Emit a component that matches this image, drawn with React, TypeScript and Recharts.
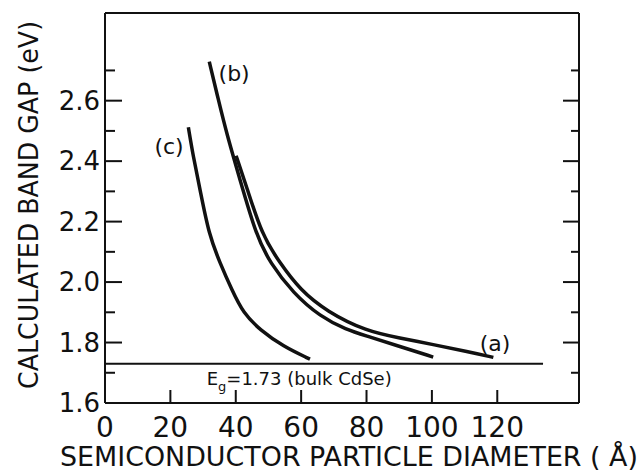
import { LineChart, Line, XAxis, YAxis, ReferenceDot } from 'recharts';

// particle diameter (Å) vs calculated band gap (eV)
const diameterA = [40.1, 43.3, 48.0, 53.5, 59.7, 67.8, 80, 90.2, 100.4, 110.6, 118.8];
const gapA = [2.418, 2.316, 2.156, 2.063, 1.974, 1.903, 1.837, 1.815, 1.793, 1.771, 1.751];

const diameterB = [31.9, 34.7, 37.2, 41.3, 46.2, 50.5, 57.6, 65.8, 73.9, 80, 90.2, 100.4];
const gapB = [2.729, 2.602, 2.492, 2.338, 2.156, 2.063, 1.963, 1.886, 1.842, 1.822, 1.787, 1.752];

const diameterC = [25.5, 27.0, 29.1, 31.8, 35.2, 38.8, 42.3, 47.4, 54.5, 62.7];
const gapC = [2.512, 2.415, 2.305, 2.156, 2.063, 1.974, 1.897, 1.842, 1.787, 1.745];

const bulkDiameter = [0, 134];
const bulkGap = [1.73, 1.73];

const xTicks = [0, 20, 40, 60, 80, 100, 120];
const xTopTicks = [20, 40, 60, 80, 100, 120];
const yTicks = [1.6, 1.7, 1.8, 1.9, 2.0, 2.1, 2.2, 2.3, 2.4, 2.5, 2.6, 2.7];

const FONT = '"DejaVu Sans", sans-serif';
const INK = '#111';

function toPoints(xs: number[], ys: number[]) {
  return xs.map((d, i) => ({ d, gap: ys[i] }));
}

const isMajor = (v: number) => Math.round(v * 10) % 2 === 0;

function BottomTick({ x, y, payload }: any) {
  return (
    <g>
      {payload.value !== 0 && (
        <line x1={x} x2={x} y1={y} y2={y - 13} stroke={INK} strokeWidth={2} />
      )}
      <text x={x} y={y + 34} textAnchor="middle" fontSize={28} fontFamily={FONT} fill={INK}>
        {payload.value}
      </text>
    </g>
  );
}

function TopTick({ x, y }: any) {
  return <line x1={x} x2={x} y1={y} y2={y + 15} stroke={INK} strokeWidth={2} />;
}

function LeftTick({ x, y, payload }: any) {
  const v = payload.value;
  const major = isMajor(v);
  return (
    <g>
      {v > 1.65 && (
        <line x1={x} x2={x + (major ? 17 : 10)} y1={y} y2={y} stroke={INK} strokeWidth={2} />
      )}
      {major && (
        <text x={x - 5} y={y} dy={9} textAnchor="end" fontSize={26} fontFamily={FONT} fill={INK}>
          {v.toFixed(1)}
        </text>
      )}
    </g>
  );
}

function RightTick({ x, y, payload }: any) {
  const v = payload.value;
  if (v < 1.65) return <g />;
  return <line x1={x} x2={x - (isMajor(v) ? 16 : 8)} y1={y} y2={y} stroke={INK} strokeWidth={2} />;
}

function XTitle() {
  return (
    <text x={349} y={466} textAnchor="middle" fontSize={27} fontFamily={FONT} fill={INK}
      textLength={578} lengthAdjust="spacingAndGlyphs">
      SEMICONDUCTOR  PARTICLE  DIAMETER ( Å)
    </text>
  );
}

function YTitle() {
  const cx = 38;
  const cy = 205;
  return (
    <text x={cx} y={cy} transform={`rotate(-90, ${cx}, ${cy})`} textAnchor="middle" fontSize={26}
      fontFamily={FONT} fill={INK} textLength={368} lengthAdjust="spacingAndGlyphs">
      CALCULATED BAND GAP (eV)
    </text>
  );
}

function CurveTag(text: string) {
  return ({ cx, cy }: any) => (
    <text x={cx} y={cy} dy={8} textAnchor="middle" fontSize={22} fontFamily={FONT} fill={INK}>
      {text}
    </text>
  );
}

function BulkNote({ cx, cy }: any) {
  return (
    <text x={cx} y={cy} fontSize={18} fontFamily={FONT} fill={INK}>
      E
      <tspan fontSize={13} dy={6}>g</tspan>
      <tspan dy={-6}>=1.73 (bulk CdSe)</tspan>
    </text>
  );
}

export default function App() {
  return (
    <div style={{ position: 'absolute', left: 0, top: 0, background: '#fff' }}>
      <LineChart width={640} height={473} margin={{ top: 3, right: 51, bottom: 40, left: 65 }}>
        <XAxis
          dataKey="d"
          type="number"
          domain={[0, 145]}
          ticks={xTicks}
          allowDataOverflow
          height={30}
          tickSize={0}
          tickMargin={0}
          tick={<BottomTick />}
          axisLine={{ stroke: INK, strokeWidth: 2 }}
          label={<XTitle />}
        />
        <XAxis
          xAxisId="top"
          orientation="top"
          type="number"
          domain={[0, 145]}
          ticks={xTopTicks}
          allowDataOverflow
          height={10}
          tickSize={0}
          tickMargin={0}
          tick={<TopTick />}
          axisLine={{ stroke: INK, strokeWidth: 2 }}
        />
        <YAxis
          type="number"
          domain={[1.6, 2.89]}
          ticks={yTicks}
          allowDataOverflow
          width={40}
          tickSize={0}
          tickMargin={0}
          tick={<LeftTick />}
          axisLine={{ stroke: INK, strokeWidth: 2 }}
          label={<YTitle />}
        />
        <YAxis
          yAxisId="right"
          orientation="right"
          type="number"
          domain={[1.6, 2.89]}
          ticks={yTicks}
          allowDataOverflow
          width={10}
          tickSize={0}
          tickMargin={0}
          tick={<RightTick />}
          axisLine={{ stroke: INK, strokeWidth: 2 }}
        />
        <Line data={toPoints(bulkDiameter, bulkGap)} dataKey="gap" type="linear" stroke={INK}
          strokeWidth={2} dot={false} isAnimationActive={false} />
        <Line data={toPoints(diameterC, gapC)} dataKey="gap" type="basis" stroke={INK}
          strokeWidth={3.5} dot={false} isAnimationActive={false} />
        <Line data={toPoints(diameterB, gapB)} dataKey="gap" type="basis" stroke={INK}
          strokeWidth={3.5} dot={false} isAnimationActive={false} />
        <Line data={toPoints(diameterA, gapA)} dataKey="gap" type="basis" stroke={INK}
          strokeWidth={3.5} dot={false} isAnimationActive={false} />
        <ReferenceDot x={119.3} y={1.8} r={0} shape={CurveTag('(a)')} />
        <ReferenceDot x={39.5} y={2.692} r={0} shape={CurveTag('(b)')} />
        <ReferenceDot x={19.6} y={2.45} r={0} shape={CurveTag('(c)')} />
        <ReferenceDot x={31.1} y={1.66} r={0} shape={BulkNote} />
      </LineChart>
    </div>
  );
}
